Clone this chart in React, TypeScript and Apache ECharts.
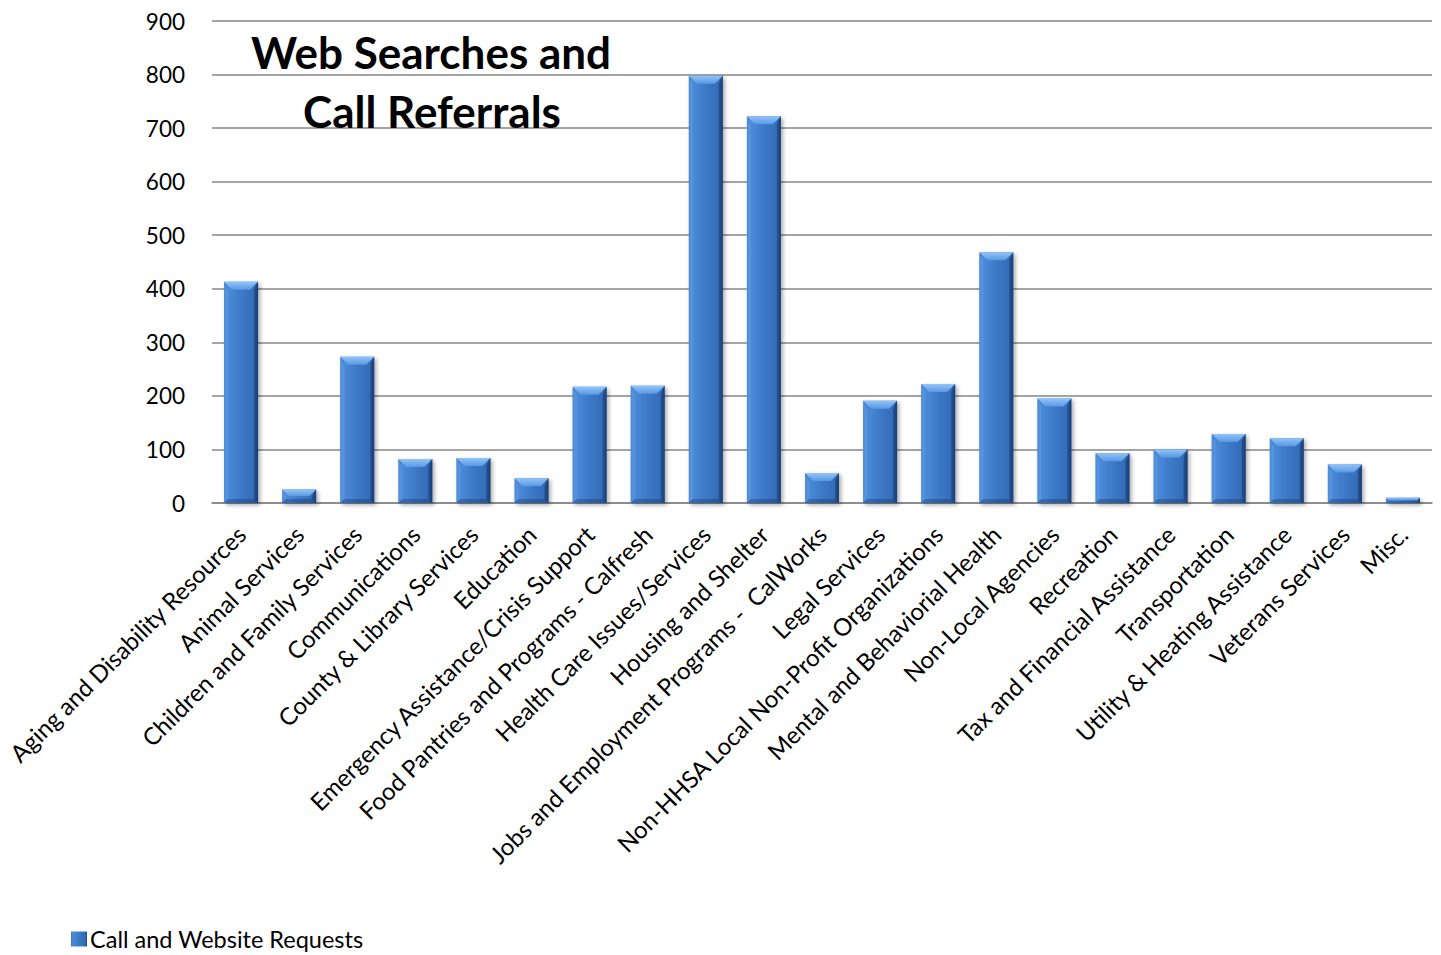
import React, { useEffect, useRef } from "react";
import * as echarts from "echarts";

const categories: string[] = [
  "Aging and Disability Resources",
  "Animal Services",
  "Children and Family Services",
  "Communications",
  "County & Library Services",
  "Education",
  "Emergency Assistance/Crisis Support",
  "Food Pantries and Programs - Calfresh",
  "Health Care Issues/Services",
  "Housing and Shelter",
  "Jobs and Employment Programs -  CalWorks",
  "Legal Services",
  "Non-HHSA Local Non-Profit Organizations",
  "Mental and Behaviorial Health",
  "Non-Local Agencies",
  "Recreation",
  "Tax and Financial Assistance",
  "Transportation",
  "Utility & Heating Assistance",
  "Veterans Services",
  "Misc.",
];

const requests: number[] = [
  413, 25, 273, 82, 84, 46, 217, 219, 798, 722, 56, 191, 222, 468, 195, 93, 100, 129, 121, 72, 10,
];

const yTicks: number[] = [0, 100, 200, 300, 400, 500, 600, 700, 800, 900];

const seriesName = "Call and Website Requests";
const titleLines: string[] = ["Web Searches and", "Call Referrals"];

const FONT = "Lato, 'Open Sans', sans-serif";

export default function App() {
  const ref = useRef<HTMLDivElement>(null);

  useEffect(() => {
    document.body.style.margin = "0";
    if (!ref.current) return;
    const chart = echarts.init(ref.current, undefined, { renderer: "svg" });
    const BW = 34;
    const titleStyle = (text: string) => ({
      text,
      fontFamily: FONT,
      fontSize: 44,
      fontWeight: "bold",
      fill: "#000",
      textAlign: "center",
      textVerticalAlign: "middle",
    });
    const option: any = {
      animation: false,
      backgroundColor: "#ffffff",
      textStyle: { fontFamily: FONT },
      grid: { left: 212, top: 21, width: 1220, height: 482, containLabel: false },
      legend: {
        left: 66,
        top: 922,
        itemWidth: 16,
        itemHeight: 15,
        itemGap: 6,
        data: [{ name: seriesName, icon: "rect" }],
        textStyle: {
          fontFamily: FONT,
          fontSize: 23.5,
          lineHeight: 24,
          color: "#000",
          padding: [0, 0, 0, -2],
        },
      },
      graphic: [
        { type: "text", x: 431, y: 52, style: titleStyle(titleLines[0]), z: 100 },
        { type: "text", x: 432, y: 111, style: titleStyle(titleLines[1]), z: 100 },
      ],
      xAxis: {
        type: "category",
        data: categories,
        axisLine: { show: true, lineStyle: { color: "#868686", width: 1.5 } },
        axisTick: { show: false },
        axisLabel: {
          interval: 0,
          rotate: 45,
          margin: 27,
          fontSize: 24,
          color: "#000",
          fontFamily: FONT,
        },
      },
      yAxis: {
        type: "value",
        min: yTicks[0],
        max: yTicks[yTicks.length - 1],
        interval: 100,
        axisLine: { show: false },
        axisTick: { show: false },
        axisLabel: { fontSize: 22.5, color: "#000", margin: 27, fontFamily: FONT },
        splitLine: { lineStyle: { color: "#868686", width: 1.5 } },
      },
      series: [
        {
          name: seriesName,
          type: "bar",
          data: requests,
          barWidth: BW,
          itemStyle: {
            color: new echarts.graphic.LinearGradient(0, 0, 1, 0, [
              { offset: 0, color: "#3a78c8" },
              { offset: 0.12, color: "#4a8ad8" },
              { offset: 0.5, color: "#3d79c7" },
              { offset: 0.88, color: "#346cb8" },
              { offset: 1, color: "#1e4a88" },
            ]),
            shadowBlur: 4,
            shadowColor: "rgba(0,0,0,0.35)",
            shadowOffsetX: 2,
            shadowOffsetY: 2,
          },
        },
        {
          name: "bevel",
          type: "custom",
          data: requests.map((v, i) => [i, v]),
          silent: true,
          z: 3,
          renderItem: (params: any, api: any) => {
            const top = api.coord([api.value(0), api.value(1)]);
            const base = api.coord([api.value(0), 0]);
            const cx = top[0];
            const ty = top[1];
            const by = base[1];
            const hgt = by - ty;
            const h = Math.min(8, hgt / 2);
            const half = BW / 2;
            const l = cx - half;
            const r = cx + half;
            const sw = Math.min(4, hgt / 3);
            return {
              type: "group",
              children: [
                {
                  type: "polygon",
                  shape: { points: [[l, ty], [r, ty], [r - h, ty + h], [l + h, ty + h]] },
                  style: {
                    fill: new echarts.graphic.LinearGradient(0, 0, 0, 1, [
                      { offset: 0, color: "#92c4f7" },
                      { offset: 1, color: "#5898e4" },
                    ]),
                  },
                },
                {
                  type: "polygon",
                  shape: { points: [[r, ty], [r, by], [r - sw, by - sw], [r - sw, ty + h]] },
                  style: { fill: "rgba(20,50,100,0.45)" },
                },
                {
                  type: "polygon",
                  shape: { points: [[l, by], [r, by], [r - sw, by - sw], [l + sw, by - sw]] },
                  style: { fill: "rgba(20,50,100,0.35)" },
                },
                {
                  type: "polygon",
                  shape: { points: [[l, ty], [l, by], [l + sw, by - sw], [l + sw, ty + h]] },
                  style: { fill: "rgba(120,175,235,0.35)" },
                },
              ],
            };
          },
        },
      ],
    };
    chart.setOption(option);
    return () => chart.dispose();
  }, []);

  return <div ref={ref} style={{ width: 1441, height: 955 }} />;
}
